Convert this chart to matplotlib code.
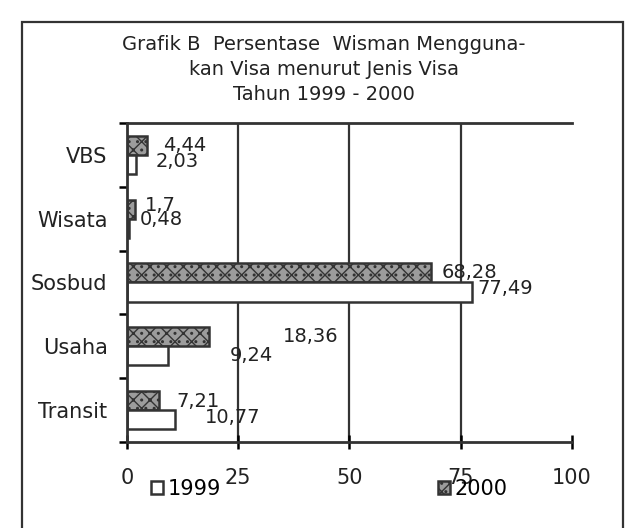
import numpy as np
import matplotlib
matplotlib.use("Agg")
import matplotlib.pyplot as plt
from matplotlib.patches import Rectangle, Patch

categories = ["VBS", "Wisata", "Sosbud", "Usaha", "Transit"]
values_2000 = [4.44, 1.7, 68.28, 18.36, 7.21]
values_1999 = [2.03, 0.48, 77.49, 9.24, 10.77]
labels_2000 = ["4,44", "1,7", "68,28", "18,36", "7,21"]
labels_1999 = ["2,03", "0,48", "77,49", "9,24", "10,77"]
x_ticks = [0, 25, 50, 75, 100]

plt.rcParams['font.family'] = ['DejaVu Sans']

fig = plt.figure(figsize=(6.33, 5.28), dpi=100)
ax = fig.add_axes([0.2006, 0.163, 0.703, 0.604])

y = np.arange(len(categories))[::-1].astype(float)
h = 0.3
ax.barh(y + h / 2, values_2000, height=h, facecolor="#9c9c9c", edgecolor="#333333",
        hatch="xx..", linewidth=1.8)
ax.barh(y - h / 2, values_1999, height=h, facecolor="white", edgecolor="#333333",
        linewidth=1.8)

# value labels, placed roughly where the original has them (offsets in data units)
offs_2000 = [(3.7, 0.155), (2.3, 0.2), (2.5, 0.16), (16.7, 0.15), (4.0, 0.14)]
offs_1999 = [(4.3, -0.10), (2.4, -0.01), (1.2, -0.09), (13.9, -0.14), (6.8, -0.11)]
for i in range(len(categories)):
    ax.text(values_2000[i] + offs_2000[i][0], y[i] + offs_2000[i][1], labels_2000[i],
            fontsize=14, va="center", ha="left", color="#222222")
    ax.text(values_1999[i] + offs_1999[i][0], y[i] + offs_1999[i][1], labels_1999[i],
            fontsize=14, va="center", ha="left", color="#222222")

ax.set_xlim(0, 100)
ax.set_ylim(-0.5, len(categories) - 0.5)
ax.set_xticks(x_ticks)
ax.set_xticklabels([str(t) for t in x_ticks], fontsize=15, color="#222222")
ax.tick_params(axis="x", direction="inout", length=10, width=1.8, pad=14)
ax.set_yticks(y)
ax.set_yticklabels(categories, fontsize=15, color="#222222")
ax.tick_params(axis="y", which="major", length=0, pad=14)
ax.set_yticks(np.arange(-0.5, len(categories), 1.0), minor=True)
ax.tick_params(axis="y", which="minor", direction="out", length=6, width=1.8)

for xv in x_ticks[1:-1]:
    ax.axvline(xv, color="#333333", linewidth=1.6, zorder=0)
ax.spines["right"].set_visible(False)
for s in ["top", "left", "bottom"]:
    ax.spines[s].set_linewidth(2)
    ax.spines[s].set_color("#333333")

fig.text(0.512, 0.869, "Grafik B  Persentase  Wisman Mengguna-\n"
         "kan Visa menurut Jenis Visa\nTahun 1999 - 2000",
         ha="center", va="center", fontsize=14, linespacing=1.4, color="#222222")

handles = [Patch(facecolor="white", edgecolor="#333333", linewidth=1.8, label="1999"),
           Patch(facecolor="#9c9c9c", edgecolor="#333333", hatch="xx..", linewidth=1.8, label="2000")]
fig.legend(handles=handles, loc="center", bbox_to_anchor=(0.52, 0.074), ncol=2,
           frameon=False, fontsize=15, columnspacing=10.4, handlelength=0.6,
           handleheight=0.6, handletextpad=0.2)

fig.patches.append(Rectangle((0.035, -0.01), 0.949, 0.968, transform=fig.transFigure,
                             fill=False, edgecolor="#333333", linewidth=1.6))

fig.savefig("out.png", dpi=100)
